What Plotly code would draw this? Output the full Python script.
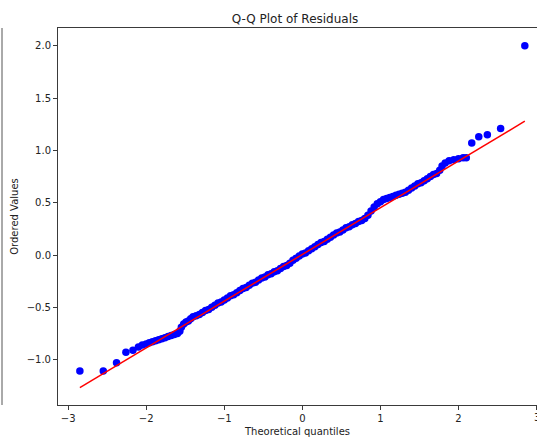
import plotly.graph_objects as go

# Theoretical quantiles (x) and ordered residuals (y)
theoretical_q = [
    -2.85, -2.55, -2.38, -2.26, -2.17, -2.10, -2.05, -2.00, -1.96, -1.92,
    -1.88, -1.84, -1.80, -1.76, -1.72, -1.68, -1.64, -1.60, -1.57, -1.55,
    -1.52, -1.49, -1.46, -1.43, -1.40,
    -1.36, -1.32, -1.28, -1.24, -1.20, -1.16, -1.12, -1.08, -1.04, -1.00,
    -0.96, -0.92, -0.88, -0.84, -0.80, -0.76, -0.72, -0.68, -0.64, -0.60,
    -0.56, -0.52, -0.48, -0.44, -0.40, -0.36, -0.32, -0.28, -0.24, -0.20,
    -0.16, -0.12, -0.08, -0.04, 0.00, 0.04, 0.08, 0.12, 0.16, 0.20,
    0.24, 0.28, 0.32, 0.36, 0.40, 0.44, 0.48, 0.52, 0.56, 0.60,
    0.64, 0.68, 0.72, 0.76, 0.80, 0.84, 0.88, 0.92, 0.96, 1.00,
    1.04, 1.08, 1.12, 1.16, 1.20, 1.24, 1.28, 1.32, 1.36, 1.40,
    1.44, 1.48, 1.52, 1.56, 1.60, 1.64, 1.68, 1.72,
    1.76, 1.79, 1.83, 1.88, 1.94, 2.00, 2.06, 2.10, 2.17, 2.26,
    2.37, 2.54, 2.85,
]
ordered_values = [
    -1.11, -1.11, -1.03, -0.93, -0.91, -0.88, -0.86, -0.85, -0.84, -0.83,
    -0.82, -0.81, -0.80, -0.79, -0.78, -0.77, -0.76, -0.75, -0.73, -0.69,
    -0.66, -0.64, -0.63, -0.61, -0.59,
    -0.58, -0.57, -0.55, -0.53, -0.52, -0.50, -0.48, -0.46, -0.45, -0.43,
    -0.41, -0.39, -0.38, -0.36, -0.34, -0.32, -0.31, -0.29, -0.27, -0.26,
    -0.24, -0.22, -0.21, -0.19, -0.18, -0.16, -0.15, -0.13, -0.11, -0.10,
    -0.08, -0.05, -0.03, -0.01, 0.01, 0.02, 0.04, 0.06, 0.08, 0.10,
    0.12, 0.13, 0.15, 0.17, 0.19, 0.21, 0.22, 0.24, 0.26, 0.27,
    0.29, 0.30, 0.32, 0.33, 0.35, 0.38, 0.42, 0.46, 0.49, 0.51,
    0.53, 0.54, 0.55, 0.56, 0.57, 0.58, 0.59, 0.60, 0.62, 0.64,
    0.66, 0.68, 0.69, 0.71, 0.73, 0.75, 0.77, 0.78,
    0.81, 0.85, 0.88, 0.90, 0.91, 0.92, 0.93, 0.93, 1.07, 1.13,
    1.15, 1.21, 2.00,
]

# Least-squares fit line
fit_slope = 0.447
fit_intercept = 0.005
fit_x = [min(theoretical_q), max(theoretical_q)]
fit_y = [fit_slope * v + fit_intercept for v in fit_x]

x_ticks = [-3, -2, -1, 0, 1, 2, 3]
y_ticks = [-1.0, -0.5, 0.0, 0.5, 1.0, 1.5, 2.0]
y_tick_text = ["\u22121.0", "\u22120.5", "0.0", "0.5", "1.0", "1.5", "2.0"]
x_tick_text = ["\u22123", "\u22122", "\u22121", "0", "1", "2", "3"]

W, H = 537, 439
L, R, T, B = 58, 0, 28, 34
AX = "#3a3a3a"
FONT = "DejaVu Sans"

fig = go.Figure()
fig.add_trace(go.Scatter(
    x=theoretical_q, y=ordered_values, mode="markers",
    marker=dict(color="#0000ff", size=7.5, line=dict(width=0)),
    showlegend=False, hoverinfo="skip",
))
fig.add_trace(go.Scatter(
    x=fit_x, y=fit_y, mode="lines",
    line=dict(color="#ff0000", width=1.5),
    showlegend=False, hoverinfo="skip",
))

fig.update_layout(
    width=W, height=H,
    margin=dict(l=L, r=R, t=T, b=B, pad=0),
    paper_bgcolor="white", plot_bgcolor="white",
    font=dict(family=FONT, size=10, color="#222"),
    title=dict(text="Q-Q Plot of Residuals", x=295 / W, xanchor="center",
               y=1 - 18.5 / H, yanchor="middle", yref="container",
               font=dict(family=FONT, size=12, color="#222")),
)
fig.update_xaxes(
    range=[-3.13, 3.006], showgrid=False, zeroline=False,
    showline=True, linecolor=AX, linewidth=1, mirror=True,
    ticks="outside", ticklen=4, tickcolor=AX, tickwidth=1,
    tickvals=x_ticks, ticktext=x_tick_text,
    tickfont=dict(family=FONT, size=10, color="#222"),
    title=dict(text="Theoretical quantiles", standoff=4,
               font=dict(family=FONT, size=10, color="#222")),
)
fig.update_yaxes(
    range=[-1.434, 2.17], showgrid=False, zeroline=False,
    showline=True, linecolor=AX, linewidth=1, mirror=False,
    ticks="outside", ticklen=4, tickcolor=AX, tickwidth=1,
    tickvals=y_ticks, ticktext=y_tick_text,
    tickfont=dict(family=FONT, size=10, color="#222"),
    title=dict(text="Ordered Values", standoff=6,
               font=dict(family=FONT, size=10, color="#222")),
)

# Last x tick label sits on the page edge (half cut off in the reference)
fig.add_annotation(x=x_ticks[-1], xref="x", y=0, yref="paper",
                   yanchor="top", yshift=-5, showarrow=False,
                   text=x_tick_text[-1],
                   font=dict(family=FONT, size=10, color="#222"))

# Right edge of a neighbouring panel visible at the far left
fig.add_shape(type="line", xref="paper", yref="paper",
              x0=(2 - L) / (W - L - R), x1=(2 - L) / (W - L - R), y0=0, y1=1,
              line=dict(color="#555", width=1))

fig.write_html("out.html")
